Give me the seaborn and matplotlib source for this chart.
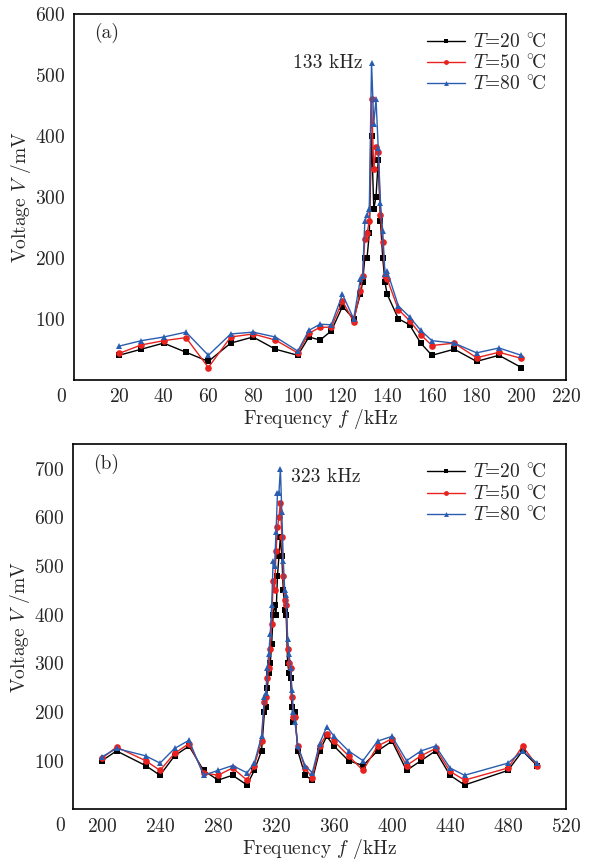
import numpy as np
import pandas as pd
import matplotlib
matplotlib.use("Agg")
import matplotlib.pyplot as plt
import matplotlib.transforms as mtransforms
import seaborn as sns

# ---------------- data: panel (a) ----------------
freq_a = [20, 30, 40, 50, 60, 70, 80, 90, 100, 105, 110, 115, 120, 125,
          128, 129, 130, 131, 132, 133, 134, 135, 136, 137, 138, 139, 140,
          145, 150, 155, 160, 170, 180, 190, 200]
v20_a = [40, 50, 60, 45, 30, 60, 70, 50, 40, 70, 65, 80, 120, 100,
         140, 160, 200, 200, 240, 400, 280, 300, 360, 260, 200, 160, 140,
         100, 90, 60, 40, 50, 30, 40, 20]
v50_a = [43, 57, 64, 69, 20, 70, 75, 65, 44, 76, 86, 86, 129, 95,
         145, 170, 230, 240, 260, 460, 345, 382, 374, 270, 225, 170, 165,
         115, 97, 74, 56, 60, 36, 45, 35]
v80_a = [55, 64, 70, 78, 40, 75, 78, 70, 47, 81, 91, 90, 140, 100,
         165, 170, 260, 270, 280, 520, 420, 460, 380, 290, 244, 174, 178,
         121, 103, 81, 64, 60, 44, 52, 40]

# ---------------- data: panel (b) ----------------
freq_b = [200, 210, 230, 240, 250, 260, 270, 280, 290, 300, 305, 310,
          312, 313, 314, 315, 316, 317, 318, 319, 320, 321, 322, 323, 324,
          325, 326, 327, 328, 329, 330, 331, 332, 333, 335,
          340, 345, 350, 355, 360, 370, 380, 390, 400, 410, 420, 430, 440,
          450, 480, 490, 500]
v20_b = [100, 120, 90, 70, 110, 130, 80, 60, 70, 50, 80, 120,
         200, 210, 250, 280, 300, 340, 400, 420, 400, 480, 520, 560, 520,
         450, 410, 400, 300, 280, 270, 210, 180, 200, 120,
         70, 60, 120, 150, 130, 100, 90, 120, 140, 80, 100, 120, 70,
         50, 80, 120, 90]
v50_b = [105, 128, 100, 80, 115, 135, 75, 70, 85, 60, 90, 140,
         220, 230, 270, 290, 330, 380, 470, 450, 530, 580, 600, 630, 560,
         480, 430, 420, 330, 300, 290, 230, 190, 190, 130,
         85, 65, 130, 155, 140, 110, 80, 130, 145, 90, 110, 125, 78,
         60, 85, 130, 90]
v80_b = [108, 125, 110, 95, 125, 142, 70, 80, 90, 75, 95, 150,
         230, 240, 290, 320, 360, 420, 510, 500, 570, 650, 650, 700, 610,
         510, 450, 440, 350, 320, 290, 245, 200, 180, 130,
         90, 75, 135, 170, 150, 120, 100, 140, 150, 100, 120, 130, 85,
         70, 95, 120, 95]

series_labels = [r"$T$=20 $^{\circ}\!$C", r"$T$=50 $^{\circ}\!$C",
                 r"$T$=80 $^{\circ}\!$C"]
xticks_a = [20, 40, 60, 80, 100, 120, 140, 160, 180, 200, 220]
yticks_a = [100, 200, 300, 400, 500, 600]
xticks_b = [200, 240, 280, 320, 360, 400, 440, 480, 520]
yticks_b = [100, 200, 300, 400, 500, 600, 700]

colors = ["#000000", "#e8221e", "#2a5db0"]
markers = ["s", "o", "^"]

sns.set_style("white")
plt.rcParams["font.family"] = ["cmr10", "DejaVu Serif"]
plt.rcParams["mathtext.fontset"] = "cm"
plt.rcParams["axes.formatter.use_mathtext"] = True
plt.rcParams["font.size"] = 14


def long_df(freq, vals):
    frames = []
    for lab, v in zip(series_labels, vals):
        frames.append(pd.DataFrame({"f": freq, "V": v, "T": lab}))
    return pd.concat(frames, ignore_index=True)


df_a = long_df(freq_a, [v20_a, v50_a, v80_a])
df_b = long_df(freq_b, [v20_b, v50_b, v80_b])

fig = plt.figure(figsize=(5.89, 8.61), dpi=100)
ax_a = fig.add_axes([0.126, 0.559, 0.835, 0.425])
ax_b = fig.add_axes([0.124, 0.060, 0.837, 0.424])


def draw(ax, df, xlim, ylim, xt, yt, tag, tagxy, note, notexy, note_ha):
    sns.lineplot(data=df, x="f", y="V", hue="T", style="T",
                 palette=colors, markers=markers, dashes=False,
                 markersize=4.8, markeredgewidth=0, linewidth=1.0,
                 sort=False, ax=ax, legend=True)
    ax.set_xlim(*xlim)
    ax.set_ylim(*ylim)
    ax.set_xticks(xt)
    ax.set_yticks(yt)
    ax.tick_params(direction="in", length=5, width=1.0, top=False,
                   right=False, labelsize=14, pad=6)
    for s in ax.spines.values():
        s.set_color("black")
        s.set_linewidth(1.2)
    ax.set_xlabel(r"Frequency $f$ /kHz", fontsize=14, labelpad=1)
    ax.set_ylabel(r"Voltage $V$ /mV", fontsize=14, labelpad=2)
    ax.text(tagxy[0], tagxy[1], tag, fontsize=14, ha="left", va="center")
    ax.text(notexy[0], notexy[1], note, fontsize=14, ha=note_ha, va="center")
    trans = mtransforms.offset_copy(ax.transAxes, fig=fig, x=0, y=-17,
                                    units="dots")
    ax.text(-0.026, 0, "0", fontsize=14, ha="center", va="center",
            transform=trans)
    leg = ax.legend(loc="upper right", frameon=False, fontsize=14,
                    handlelength=2.0, handletextpad=0.4, labelspacing=0.15,
                    borderaxespad=0.6)
    for h in leg.legend_handles:
        h.set_markersize(3.5)


draw(ax_a, df_a, (0, 220), (0, 600), xticks_a, yticks_a, "(a)", (9, 568),
     "133 kHz", (129, 520), "right")
draw(ax_b, df_b, (180, 520), (0, 750), xticks_b, yticks_b, "(b)", (194, 709),
     "323 kHz", (330, 682), "left")

fig.savefig("out.png", dpi=100)
